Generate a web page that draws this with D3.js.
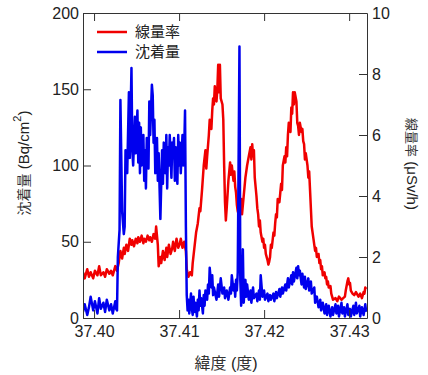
<!DOCTYPE html>
<html>
<head>
<meta charset="utf-8">
<script src="https://cdn.jsdelivr.net/npm/d3@7"></script>
<style>
  body { margin: 0; background: #fff; }
  svg text { font-family: "Liberation Sans", Arial, "Noto Sans CJK JP", sans-serif; fill: #222; }
  .jp { font-family: "Noto Sans CJK JP", sans-serif; }
</style>
</head>
<body>
<svg id="chart"></svg>
<script>
// 沈着量 (Bq/cm2) - left axis
var depLat = [37.3987,37.3989,37.3992,37.3994,37.3996,37.3999,37.4001,37.4004,37.4006,37.4008,
  37.4011,37.4013,37.4015,37.4018,37.4020,37.4022,37.4025,37.4026,37.4027,37.4028,
  37.4030,37.4031,37.4033,37.4035,37.4036,37.4037,37.4039,37.4041,37.4042,37.4044,
  37.4045,37.4046,37.4048,37.4049,37.4051,37.4052,37.4053,37.4054,37.4055,37.4056,
  37.4058,37.4059,37.4060,37.4061,37.4062,37.4064,37.4065,37.4066,37.4068,37.4069,
  37.4070,37.4071,37.4072,37.4074,37.4075,37.4076,37.4078,37.4080,37.4081,37.4082,
  37.4084,37.4085,37.4086,37.4087,37.4088,37.4089,37.4091,37.4092,37.4093,37.4094,
  37.4095,37.4096,37.4098,37.4099,37.4100,37.4101,37.4102,37.4104,37.4105,37.4106,
  37.4107,37.4108,37.4109,37.4110,37.4111,37.4112,37.4114,37.4115,37.4116,37.4117,
  37.4118,37.4119,37.4121,37.4122,37.4123,37.4124,37.4125,37.4126,37.4128,37.4129,
  37.4130,37.4131,37.4133,37.4134,37.4135,37.4136,37.4138,37.4139,37.4140,37.4141,
  37.4144,37.4146,37.4147,37.4149,37.4151,37.4153,37.4154,37.4156,37.4158,37.4160,
  37.4161,37.4162,37.4164,37.4165,37.4166,37.4167,37.4168,37.4169,37.4171,37.4172,
  37.4173,37.4174,37.4175,37.4176,37.4178,37.4179,37.4180,37.4182,37.4184,37.4185,
  37.4187,37.4188,37.4191,37.4192,37.4194,37.4195,37.4196,37.4198,37.4200,37.4201,
  37.4204,37.4205,37.4207,37.4208,37.4211,37.4212,37.4214,37.4215,37.4218,37.4219,
  37.4221,37.4222,37.4225,37.4226,37.4228,37.4229,37.4232,37.4233,37.4234,37.4235,
  37.4238,37.4239,37.4240,37.4241,37.4242,37.4244,37.4245,37.4247,37.4248,37.4249,
  37.4252,37.4253,37.4255,37.4256,37.4259,37.4260,37.4262,37.4264,37.4266,37.4267,
  37.4269,37.4271,37.4273,37.4274,37.4276,37.4278,37.4280,37.4281,37.4284,37.4285,
  37.4287,37.4288,37.4291,37.4292,37.4294,37.4295,37.4298,37.4299,37.4301,37.4302,
  37.4305,37.4306,37.4308,37.4309,37.4312,37.4313,37.4315,37.4317,37.4319,37.4320];
var depVal = [4,9,2,7,14,5,11,3,13,6,
  10,4,12,5,9,3,11,6,5,40,
  58,143,70,55,60,110,95,148,105,164,
  110,100,132,108,136,102,128,95,125,100,
  120,90,110,85,118,98,142,120,153,146,
  115,130,95,118,90,108,65,110,88,115,
  95,120,85,112,100,120,92,115,105,118,
  90,112,88,120,100,115,95,120,100,110,
  136,60,15,5,12,3,16,6,2,14,
  4,10,1,12,5,18,8,13,3,15,
  8,18,12,22,16,33,20,28,15,20,
  12,22,14,26,16,20,13,18,12,20,
  16,28,18,22,14,25,18,30,178,25,
  8,18,45,10,25,14,22,12,18,10,
  20,13,16,11,18,12,28,14,18,12,
  16,11,15,12,16,11,17,13,19,14,
  20,16,22,18,26,20,28,22,30,24,
  33,26,34,28,31,22,29,20,27,19,
  26,18,24,16,20,10,14,7,12,5,
  10,3,9,2,8,1,7,2,9,3,
  8,1,10,3,7,1,9,2,6,1,
  8,2,10,3,8,1,7,2,9,4];

// 線量率 (μSv/h) - right axis
var doseLat = [37.3987,37.3989,37.3992,37.3994,37.3996,37.3999,37.4001,37.4004,37.4006,37.4008,
  37.4011,37.4013,37.4015,37.4018,37.4020,37.4022,37.4025,37.4027,37.4029,37.4031,
  37.4033,37.4035,37.4036,37.4038,37.4040,37.4042,37.4044,37.4045,37.4047,37.4049,
  37.4051,37.4052,37.4054,37.4056,37.4058,37.4059,37.4061,37.4063,37.4065,37.4066,
  37.4068,37.4070,37.4072,37.4073,37.4075,37.4076,37.4078,37.4079,37.4081,37.4083,
  37.4085,37.4086,37.4088,37.4090,37.4092,37.4093,37.4095,37.4097,37.4099,37.4101,
  37.4102,37.4104,37.4106,37.4108,37.4109,37.4111,37.4113,37.4115,37.4116,37.4118,
  37.4120,37.4122,37.4124,37.4125,37.4127,37.4129,37.4131,37.4132,37.4133,37.4135,
  37.4136,37.4138,37.4139,37.4140,37.4141,37.4142,37.4144,37.4145,37.4146,37.4147,
  37.4148,37.4149,37.4151,37.4152,37.4153,37.4154,37.4155,37.4156,37.4158,37.4159,
  37.4160,37.4161,37.4162,37.4164,37.4165,37.4166,37.4167,37.4168,37.4169,37.4171,
  37.4172,37.4173,37.4174,37.4176,37.4178,37.4180,37.4182,37.4184,37.4185,37.4186,
  37.4187,37.4188,37.4189,37.4191,37.4192,37.4193,37.4194,37.4195,37.4196,37.4198,
  37.4199,37.4200,37.4201,37.4202,37.4204,37.4205,37.4206,37.4207,37.4208,37.4209,
  37.4211,37.4212,37.4213,37.4214,37.4215,37.4216,37.4218,37.4219,37.4220,37.4221,
  37.4222,37.4224,37.4225,37.4226,37.4227,37.4228,37.4229,37.4231,37.4232,37.4233,
  37.4234,37.4235,37.4236,37.4238,37.4239,37.4240,37.4241,37.4242,37.4244,37.4245,
  37.4246,37.4247,37.4248,37.4249,37.4251,37.4252,37.4253,37.4254,37.4255,37.4256,
  37.4258,37.4259,37.4260,37.4261,37.4262,37.4264,37.4265,37.4266,37.4267,37.4268,
  37.4269,37.4271,37.4272,37.4273,37.4274,37.4275,37.4276,37.4278,37.4279,37.4280,
  37.4281,37.4284,37.4286,37.4288,37.4291,37.4293,37.4295,37.4296,37.4298,37.4299,
  37.4300,37.4301,37.4302,37.4304,37.4306,37.4308,37.4311,37.4313,37.4315,37.4317,
  37.4318,37.4319,37.4320];
var doseVal = [1.5,1.3,1.6,1.35,1.5,1.3,1.55,1.4,1.7,1.4,
  1.5,1.35,1.6,1.45,1.55,1.4,1.7,1.55,1.8,2.2,
  1.95,2.3,2.1,2.4,2.2,2.6,2.4,2.55,2.35,2.6,
  2.45,2.65,2.5,2.7,2.45,2.6,2.5,2.7,2.55,2.65,
  2.5,2.75,2.6,3.0,2.4,1.7,2.0,1.8,2.2,1.9,
  2.3,2.0,2.4,2.1,2.3,2.5,2.2,2.6,2.3,2.45,
  2.6,2.3,2.5,2.2,1.6,1.35,1.5,1.4,1.8,2.3,
  2.8,3.1,3.6,3.5,4.2,5.0,5.5,4.9,5.3,6.0,
  6.5,6.2,6.8,7.2,7.0,7.6,7.1,7.5,8.3,7.4,
  8.3,7.2,7.0,6.5,5.0,3.8,3.2,3.6,4.5,4.8,
  5.1,4.7,5.0,4.5,4.8,4.3,4.1,3.7,3.5,3.3,
  3.5,3.9,3.4,4.0,4.6,5.0,5.3,5.6,5.2,5.7,
  5.3,5.5,4.6,4.0,3.6,3.4,3.0,3.2,2.8,2.5,
  2.6,2.3,2.4,2.1,1.9,1.75,1.85,2.0,2.4,2.3,
  2.8,2.7,3.1,3.4,3.3,3.9,3.8,4.1,4.4,4.2,
  5.0,5.3,5.1,5.6,5.3,6.0,6.4,6.1,6.9,6.7,
  7.4,7.0,7.4,7.1,6.4,6.3,6.0,6.4,6.1,6.2,
  5.8,5.7,5.2,5.4,5.0,4.6,4.8,4.2,3.6,3.0,
  2.6,2.4,2.2,2.3,2.0,2.1,1.8,1.9,1.6,1.7,
  1.4,1.5,1.3,1.35,1.1,1.2,1.0,1.05,0.8,0.7,
  0.6,0.65,0.55,0.7,0.6,0.65,0.7,0.9,1.2,1.3,
  1.1,1.15,0.9,0.8,0.75,0.85,0.7,0.8,0.65,0.85,
  0.8,1.0,0.95];

var xTicks = [37.40, 37.41, 37.42, 37.43];
var leftTicks = [0, 50, 100, 150, 200];
var rightTicks = [0, 2, 4, 6, 8, 10];

var width = 428, height = 375;
var margin = {top: 13, right: 61, bottom: 57, left: 83};

var svg = d3.select("#chart").attr("width", width).attr("height", height);

var x = d3.scaleLinear().domain([37.3987, 37.4321]).range([margin.left, width - margin.right]);
var yL = d3.scaleLinear().domain([0, 200]).range([height - margin.bottom, margin.top]);
var yR = d3.scaleLinear().domain([0, 10]).range([height - margin.bottom, margin.top]);

var axisColor = "#333";

svg.append("defs").append("clipPath").attr("id", "clip")
  .append("rect")
  .attr("x", margin.left).attr("y", margin.top)
  .attr("width", width - margin.left - margin.right)
  .attr("height", height - margin.top - margin.bottom);

// red line (dose rate)
var doseLine = d3.line()
  .x(function(d, i) { return x(doseLat[i]); })
  .y(function(d) { return yR(d); });

svg.append("path")
  .datum(doseVal)
  .attr("clip-path", "url(#clip)")
  .attr("fill", "none")
  .attr("stroke", "#f00000")
  .attr("stroke-width", 2.5)
  .attr("stroke-linejoin", "round")
  .attr("d", doseLine);

// blue line (deposition)
var depLine = d3.line()
  .x(function(d, i) { return x(depLat[i]); })
  .y(function(d) { return yL(d); });

svg.append("path")
  .datum(depVal)
  .attr("clip-path", "url(#clip)")
  .attr("fill", "none")
  .attr("stroke", "#0000ee")
  .attr("stroke-width", 2.5)
  .attr("stroke-linejoin", "round")
  .attr("d", depLine);

// axes, ticks pointing inward
function styleAxis(g) {
  g.selectAll(".domain").attr("stroke", axisColor).attr("stroke-width", 1);
  g.selectAll(".tick line").attr("stroke", axisColor).attr("stroke-width", 1);
  g.selectAll(".tick text").attr("font-size", 16).attr("fill", "#222");
}

svg.append("g")
  .attr("transform", "translate(0," + (height - margin.bottom) + ")")
  .call(d3.axisBottom(x).tickValues(xTicks).tickFormat(d3.format(".2f"))
    .tickSizeInner(-8).tickSizeOuter(0))
  .call(styleAxis)
  .call(function(g) { g.selectAll(".tick text").attr("dy", "0.71em").attr("y", 8); });

svg.append("g")
  .attr("transform", "translate(0," + margin.top + ")")
  .call(d3.axisTop(x).tickValues(xTicks).tickFormat("")
    .tickSizeInner(-8).tickSizeOuter(0))
  .call(styleAxis);

svg.append("g")
  .attr("transform", "translate(" + margin.left + ",0)")
  .call(d3.axisLeft(yL).tickValues(leftTicks)
    .tickSizeInner(-8).tickSizeOuter(0))
  .call(styleAxis)
  .call(function(g) { g.selectAll(".tick text").attr("x", -4); });

svg.append("g")
  .attr("transform", "translate(" + (width - margin.right) + ",0)")
  .call(d3.axisRight(yR).tickValues(rightTicks)
    .tickSizeInner(-8).tickSizeOuter(0))
  .call(styleAxis)
  .call(function(g) { g.selectAll(".tick text").attr("x", 5); });

// axis titles
var leftTitle = svg.append("text")
  .attr("transform", "translate(29,163) rotate(-90)")
  .attr("text-anchor", "middle")
  .attr("font-size", 15);
leftTitle.append("tspan").attr("class", "jp").attr("font-size", 14).attr("fill", "#333").text("沈着量");
leftTitle.append("tspan").text(" (Bq/cm");
leftTitle.append("tspan").attr("font-size", 11).attr("dy", -8).text("2");
leftTitle.append("tspan").attr("dy", 8).text(")");

var rightTitle = svg.append("text")
  .attr("transform", "translate(407,164) rotate(90)")
  .attr("text-anchor", "middle")
  .attr("font-size", 15);
rightTitle.append("tspan").attr("class", "jp").attr("font-size", 13).attr("fill", "#333").text("線量率");
rightTitle.append("tspan").text(" (μSv/h)");

var xTitle = svg.append("text")
  .attr("x", 226).attr("y", 369)
  .attr("text-anchor", "middle")
  .attr("font-size", 16);
xTitle.append("tspan").attr("class", "jp").attr("fill", "#333").text("緯度");
xTitle.append("tspan").text(" (");
xTitle.append("tspan").attr("class", "jp").attr("fill", "#333").text("度");
xTitle.append("tspan").text(")");

// legend
var legendNames = ["線量率", "沈着量"];
var legendColors = ["#f00000", "#0000ee"];
var legend = svg.append("g");
legendNames.forEach(function(name, i) {
  var ly = 32 + i * 20;
  legend.append("line")
    .attr("x1", 97).attr("x2", 127)
    .attr("y1", ly).attr("y2", ly)
    .attr("stroke", legendColors[i]).attr("stroke-width", 2.5);
  legend.append("text")
    .attr("class", "jp")
    .attr("x", 135).attr("y", ly + 5)
    .attr("font-size", 15)
    .attr("fill", "#444")
    .text(name);
});
</script>
</body>
</html>
